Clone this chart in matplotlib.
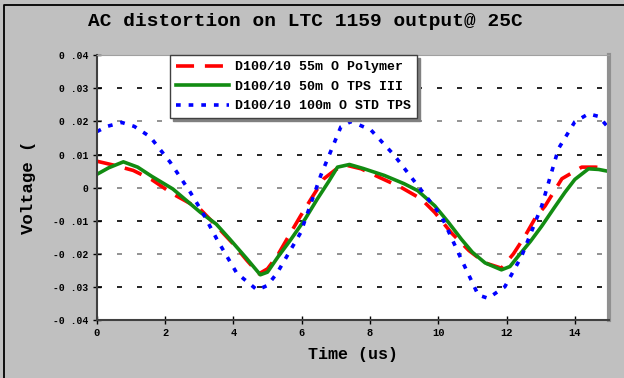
import numpy as np
import matplotlib
matplotlib.use("Agg")
import matplotlib.pyplot as plt
from matplotlib.lines import Line2D

# =======  DATA  ======= #
t_polymer = [0, 0.5, 1.07, 1.6, 2.23, 2.6, 3.03, 3.5, 4.0, 4.4, 4.75, 5.0, 5.28,
             5.6, 5.97, 6.3, 6.65, 7.0, 7.3, 7.74, 8.3, 8.91, 9.5, 9.9, 10.38,
             10.9, 11.37, 11.85, 12.2, 12.54, 12.85, 13.13, 13.62, 14.2, 14.6, 14.8]
v_polymer = [0.008, 0.0068, 0.0052, 0.0025, -0.0019, -0.004, -0.0065, -0.0115,
             -0.017, -0.022, -0.026, -0.0245, -0.0207, -0.015, -0.0085, -0.003,
             0.0027, 0.0055, 0.0068, 0.0057, 0.003, 0.0001, -0.0034, -0.0075,
             -0.0136, -0.019, -0.0227, -0.0243, -0.02, -0.0146, -0.009, -0.0055,
             0.0027, 0.0062, 0.0062, 0.006]

t_tps3 = [0, 0.35, 0.78, 1.2, 1.6, 2.23, 3.03, 3.5, 3.91, 4.4, 4.79, 5.0, 5.3,
          5.68, 6.1, 6.46, 6.8, 7.05, 7.4, 7.8, 8.42, 9.0, 9.4, 9.9, 10.3, 10.68,
          11.0, 11.37, 11.85, 12.1, 12.34, 12.7, 13.03, 13.4, 13.71, 14.0, 14.4,
          14.7, 15.0]
v_tps3 = [0.004, 0.006, 0.0078, 0.0062, 0.0035, -0.0004, -0.0074, -0.011,
          -0.0157, -0.0215, -0.0263, -0.0255, -0.021, -0.0157, -0.0095, -0.0034,
          0.002, 0.0062, 0.007, 0.0058, 0.0037, 0.0012, -0.0009, -0.0055, -0.0105,
          -0.0156, -0.0195, -0.0227, -0.0248, -0.0238, -0.0207, -0.0162, -0.0116,
          -0.006, -0.0014, 0.0025, 0.0057, 0.0055, 0.0049]

t_std = [0, 0.3, 0.73, 1.1, 1.56, 2.15, 2.74, 3.1, 3.52, 4.1, 4.7, 5.0, 5.28,
         5.97, 6.56, 7.15, 7.45, 8.03, 8.71, 9.4, 10.09, 10.68, 11.17, 11.46,
         11.95, 12.44, 13.03, 13.52, 14.0, 14.4, 14.7, 15.0]
v_std = [0.0169, 0.0185, 0.0197, 0.0185, 0.0154, 0.0077, -0.0014, -0.0075,
         -0.0156, -0.0258, -0.0309, -0.0295, -0.0258, -0.0136, 0.0037, 0.0184,
         0.02, 0.0174, 0.0098, 0.0006, -0.0085, -0.0217, -0.0324, -0.0334,
         -0.0299, -0.0207, -0.0055, 0.0118, 0.0199, 0.0223, 0.0215, 0.0179]

labels = ['D100/10 55m O Polymer', 'D100/10 50m O TPS III', 'D100/10 100m O STD TPS']

x_ticks = [0, 2, 4, 6, 8, 10, 12, 14]
y_ticks = [-0.04, -0.03, -0.02, -0.01, 0, 0.01, 0.02, 0.03, 0.04]
y_ticklabels = ['-0 .04', '-0 .03', '-0 .02', '-0 .01', '0',
                '0 .01', '0 .02', '0 .03', '0 .04']

# =======  PLOT  ======= #
mono = 'Liberation Mono'
bg = '#c0c0c0'

fig = plt.figure(figsize=(6.24, 3.78), dpi=100)
fig.patch.set_facecolor(bg)
# frame only on the left and top, like the screenshot
fig.lines.append(Line2D([0.006, 0.006, 1.0], [0.0, 0.987, 0.987], transform=fig.transFigure,
                        color='black', linewidth=1.3))

ax = fig.add_axes([0.155, 0.153, 0.821, 0.701])
ax.set_facecolor('white')

ax.plot(t_polymer, v_polymer, color='#ff0000', lw=2.6, dashes=(5, 3), label=labels[0])
ax.plot(t_tps3, v_tps3, color='#128c12', lw=2.6, label=labels[1])
ax.plot(t_std, v_std, color='#0000ff', lw=2.6, dashes=(1.3, 2.2), label=labels[2])

ax.set_xlim(0, 15)
ax.set_ylim(-0.04, 0.04)
ax.set_xticks(x_ticks)
ax.set_xticklabels([str(v) for v in x_ticks], fontfamily=mono, fontweight='bold', fontsize=7.5)
ax.set_yticks(y_ticks)
ax.set_yticklabels(y_ticklabels, fontfamily=mono, fontweight='bold', fontsize=7)
ax.tick_params(axis='both', direction='inout', length=6, width=1, pad=3)

ax.yaxis.grid(True, linestyle=(0, (3, 9)), linewidth=1.2)
for i, gl in enumerate(ax.get_ygridlines()):
    gl.set_color('#808080' if i % 2 == 0 else 'black')
    if i in (0, len(y_ticks) - 1):
        gl.set_visible(False)

ax.spines['left'].set_color('#404040')
ax.spines['bottom'].set_color('#404040')
ax.spines['left'].set_linewidth(1.5)
ax.spines['bottom'].set_linewidth(1.5)
ax.spines['top'].set_color('#a0a0a0')
ax.spines['right'].set_color('#909090')
ax.spines['right'].set_linewidth(3)

ax.set_xlabel('Time (us)', fontfamily=mono, fontweight='bold', fontsize=12, labelpad=6)
ax.set_ylabel('Voltage (', fontfamily=mono, fontweight='bold', fontsize=12.5, labelpad=12)

fig.suptitle('AC distortion on LTC 1159 output@ 25C', fontfamily=mono, fontweight='bold',
             fontsize=14, x=0.49, y=0.965)

leg = ax.legend(loc='upper left', bbox_to_anchor=(0.143, 1.0), borderaxespad=0,
                fancybox=False, shadow={'color': '#808080', 'alpha': 1},
                handlelength=4, prop={'family': mono, 'weight': 'bold', 'size': 9.5},
                labelspacing=0.55, borderpad=0.45, handletextpad=0.5)
leg.get_frame().set_edgecolor('#404040')
leg.get_frame().set_linewidth(1)
leg.get_frame().set_alpha(1)

fig.savefig('out.png', dpi=100, facecolor=fig.get_facecolor())
